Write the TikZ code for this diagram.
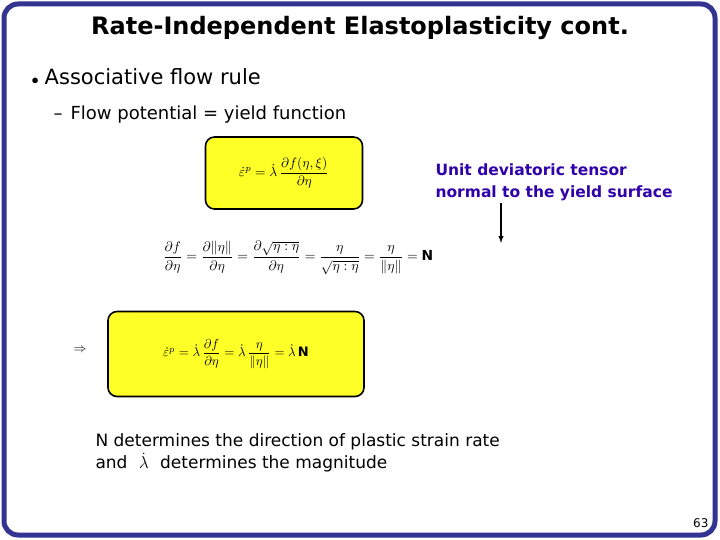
\documentclass[tikz,border=0pt]{standalone}
\usepackage{amsmath}
\usepackage{graphicx}
\usepackage{fontspec}
\setmainfont{DejaVu Sans}
\usepackage{tikz}
\usetikzlibrary{positioning}
\definecolor{framecol}{RGB}{51,51,145}
\definecolor{notecol}{RGB}{48,0,170}
\definecolor{boxcol}{RGB}{255,255,40}
\newcommand{\epsdot}{\dot{\varepsilon}^{p}}
\newcommand{\lamdot}{\dot{\lambda}}

\begin{document}
\begin{tikzpicture}[x=1pt, y=-1pt,
    Box/.style = {draw = black, line width = 1.6pt, fill = boxcol, rounded corners = 9pt, inner sep = 0pt},
    Note/.style = {text = notecol, font = \fontsize{15.5}{22}\selectfont\bfseries, align = left, anchor = west}]
        \useasboundingbox (0,0) rectangle (720,540);
        \draw [framecol, line width = 5pt, rounded corners = 14pt] (4,4) rectangle (715,535);
        \node (title) at (360,28) {\fontsize{24}{28}\selectfont\bfseries Rate-Independent Elastoplasticity cont.};
        \node [anchor = west] (bullet) at (28,77) {\fontsize{21}{24}\selectfont {\fontsize{14}{16}\selectfont$\bullet$}\hspace{6pt}Associative flow rule};
        \node [anchor = west] (sub) at (50,115) {\fontsize{18}{20}\selectfont --\hspace{8pt}Flow potential = yield function};
        \node [Box, minimum width = 157pt, minimum height = 72pt] (rule) at (284,173)
            {\scalebox{1.35}{$\epsdot = \lamdot\,\dfrac{\partial f(\eta,\xi)}{\partial \eta}$}};
        \node [Note] (note) at (432,182) {Unit deviatoric tensor\\normal to the yield surface};
        \node (chain) at (298,258) {\scalebox{1.38}{%
            $\dfrac{\partial f}{\partial \eta} = \dfrac{\partial \lVert\eta\rVert}{\partial \eta}
            = \dfrac{\partial \sqrt{\eta:\eta}}{\partial \eta} = \dfrac{\eta}{\sqrt{\eta:\eta}}
            = \dfrac{\eta}{\lVert\eta\rVert} = \mathbf{N}$}};
        \coordinate (Ntop) at (501,243);
        \draw [-latex, line width = 1.4pt] (501,203) -- (Ntop);
        \node (imp) at (80,350) {\scalebox{1.3}{$\Rightarrow$}};
        \node [Box, minimum width = 256pt, minimum height = 85pt] (result) at (236,354)
            {\scalebox{1.3}{$\epsdot = \lamdot\,\dfrac{\partial f}{\partial \eta} = \lamdot\,\dfrac{\eta}{\lVert\eta\rVert} = \lamdot\,\mathbf{N}$}};
        \node [anchor = west, align = left, font = \fontsize{17}{22}\selectfont] (text) at (92,453)
            {N determines the direction of plastic strain rate\\and \hspace{6pt}$\lamdot$\hspace{6pt} determines the magnitude};
        \node [anchor = east, font = \fontsize{12}{14}\selectfont] (page) at (712,523) {63};
    \end{tikzpicture}
\end{document}
